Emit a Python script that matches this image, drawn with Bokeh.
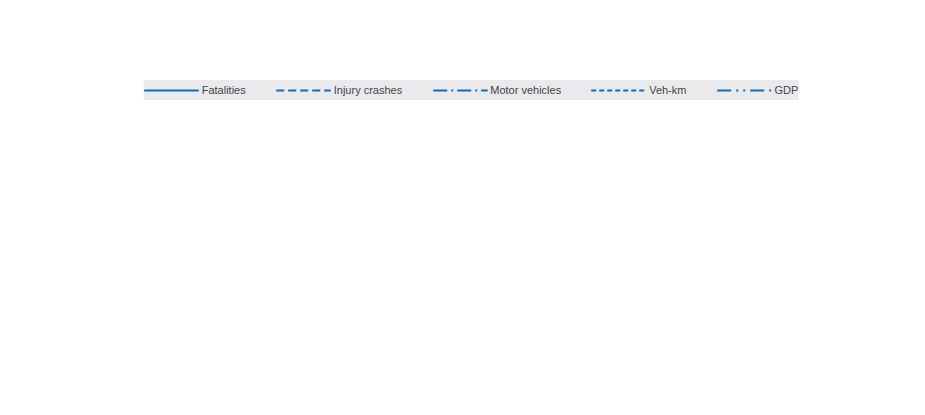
from bokeh.plotting import figure
from bokeh.models import Legend, LegendItem, FixedTicker, Range1d
from bokeh.embed import file_html
from bokeh.resources import INLINE

years = list(range(1990, 2016))
fatalities = [100,93,87,90,85,92,95,99,96,87,87,86,79,70,78,83,77,71,59,50,44,39,34,39,40,35]
injury = [100,108,110,105,118,127,142,123,130,128,127,114,110,99,96,108,100,91,111,109,95,87,93,82,96,96]
vehicles = [100,104,106,109,113,122,130,137,145,153,160,167,175,183,193,203,217,231,237,234,229,230,228,235,239,244]
vehkm = [100,103,107,110,118,135,142,139,133,138,124,130,135,143,153,159,166,174,175,181,169,167,163,168,170]
gdp = [100,103,106,109,116,125,137,151,166,184,203,216,228,237,248,263,279,294,287,271,272,280,280,284,300]
series = [("Fatalities", fatalities, "solid"), ("Injury crashes", injury, "8 4"),
          ("Motor vehicles", vehicles, "14 4 2 4"), ("Veh-km", vehkm, "5 3"),
          ("GDP", gdp, "14 5 2 5 2 5")]
col = "#0f6fb6"

p = figure(width=905, height=395, output_backend="svg", toolbar_location=None,
           x_range=Range1d(1989.5, 2015.5), y_range=Range1d(0, 350),
           background_fill_color="#e8ecf4", border_fill_color="white",
           min_border_left=45, min_border_right=8, min_border_top=5)
items = []
for name, vals, dash in series:
    r = p.line(years[:len(vals)], vals, line_color=col, line_width=2.2, line_dash=dash)
    items.append(LegendItem(label=name, renderers=[r]))

p.xaxis.ticker = FixedTicker(ticks=years)
p.xgrid.ticker = FixedTicker(ticks=[y + 0.5 for y in years])
p.yaxis.ticker = FixedTicker(ticks=list(range(0, 351, 50)))
for g in (p.xgrid, p.ygrid):
    g.grid_line_color = "white"
    g.grid_line_width = 1.2
for ax in (p.xaxis, p.yaxis):
    ax.major_label_text_font = "Liberation Sans"
    ax.major_label_text_font_size = "11px"
    ax.major_label_text_color = "#222222"
    ax.minor_tick_line_color = None
    ax.axis_line_color = "black"
p.xaxis.major_tick_line_color = None
p.xaxis.axis_line_color = "#444444"
p.yaxis.major_tick_in = 0
p.yaxis.major_tick_out = 4
p.outline_line_color = "#444444"

legend = Legend(items=items, orientation="horizontal", location="top_center",
                background_fill_color="#e9e9ec", border_line_color=None,
                label_text_font="Liberation Sans", label_text_font_size="11px",
                glyph_width=55, spacing=30, padding=4, margin=0,
                label_standoff=3)
legend.padding = 4
p.add_layout(legend, "above")

open("out.html", "w").write(file_html(p, INLINE))
